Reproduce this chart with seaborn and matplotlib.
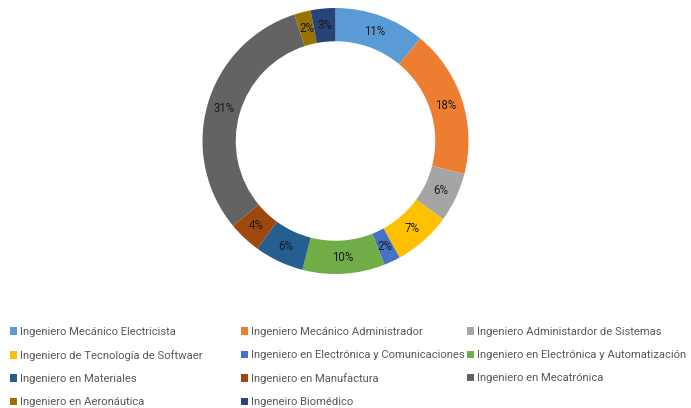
import matplotlib
matplotlib.use("Agg")
import matplotlib.pyplot as plt
import seaborn as sns
import numpy as np
from matplotlib.patches import Patch

sns.set_theme(style="white")
plt.rcParams["font.family"] = ["Roboto", "DejaVu Sans"]

carreras = [
    "Ingeniero Mecánico Electricista",
    "Ingeniero Mecánico Administrador",
    "Ingeniero Administardor de Sistemas",
    "Ingeniero de Tecnología de Softwaer",
    "Ingeniero en Electrónica y Comunicaciones",
    "Ingeniero en Electrónica y Automatización",
    "Ingeniero en Materiales",
    "Ingeniero en Manufactura",
    "Ingeniero en Mecatrónica",
    "Ingeniero en Aeronáutica",
    "Ingeneiro Biomédico",
]
porcentajes = [11, 18, 6, 7, 2, 10, 6, 4, 31, 2, 3]
colores = ["#5B9BD5", "#ED7D31", "#A5A5A5", "#FFC000", "#4472C4", "#70AD47",
           "#255E91", "#9E480E", "#636363", "#997300", "#264478"]

W, H = 691, 408
fig = plt.figure(figsize=(W / 100, H / 100), dpi=100)

# donut
cx, cy, r = 335.5, 141, 133
ax = fig.add_axes([(cx - r) / W, (H - cy - r) / H, 2 * r / W, 2 * r / H])
wedges, _ = ax.pie(porcentajes, colors=colores, startangle=90, counterclock=False,
                   radius=1, wedgeprops=dict(width=0.25, linewidth=0))
ax.set_xlim(-1, 1)
ax.set_ylim(-1, 1)
ax.set_aspect("equal")
ax.axis("off")

total = sum(porcentajes)
ang0 = 90.0
for p in porcentajes:
    mid = ang0 - p / total * 360 / 2
    ang0 -= p / total * 360
    rr = 0.875
    ax.text(rr * np.cos(np.radians(mid)), rr * np.sin(np.radians(mid)), f"{p}%",
            ha="center", va="center", fontsize=8.3, color="#1a1a1a")

# legend: three columns at fixed positions, filled row by row
ncol = 3
col_x = [10, 241, 467]
for c in range(ncol):
    idx = list(range(c, len(carreras), ncol))
    handles = [Patch(facecolor=colores[i], edgecolor="none", label=carreras[i]) for i in idx]
    fig.legend(handles=handles, loc="upper left",
               bbox_to_anchor=(col_x[c] / W, 1 - 327 / H),
               ncol=1, frameon=False, fontsize=8.1, labelcolor="#595959",
               handlelength=0.6, handleheight=0.6, handletextpad=0.3,
               labelspacing=1.16, borderaxespad=0, borderpad=0)

fig.savefig("out.png", dpi=100)
